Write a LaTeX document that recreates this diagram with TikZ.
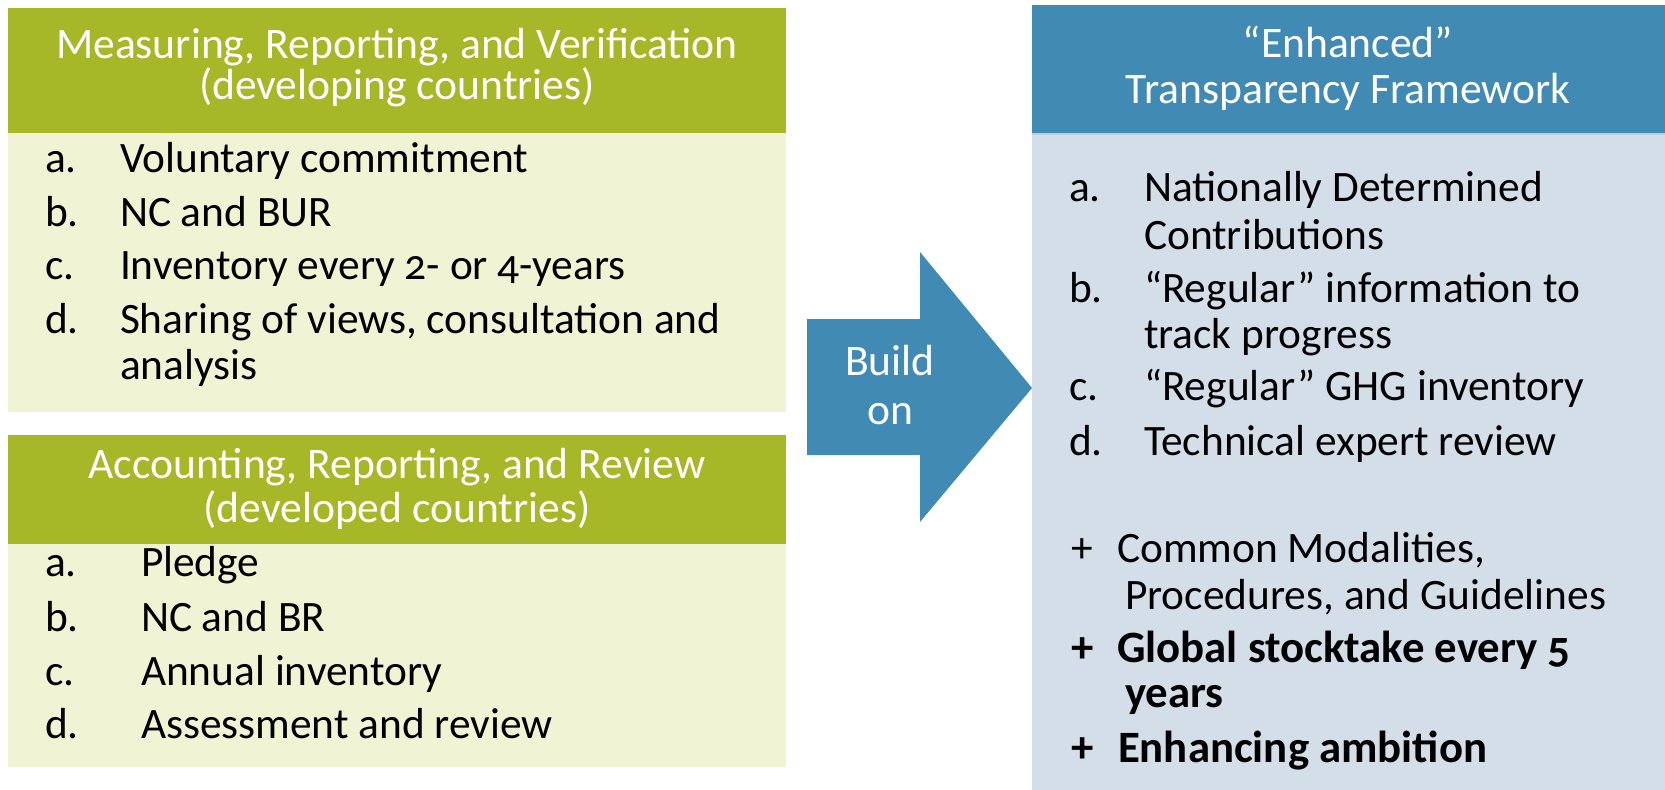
\documentclass[tikz,border=0pt]{standalone}
\usepackage{fontspec}
\setmainfont{Carlito}[Numbers=OldStyle]
\definecolor{HeaderGreen}{HTML}{A6B727}
\definecolor{BodyGreen}{HTML}{F0F4D4}
\definecolor{HeaderBlue}{HTML}{418AB3}
\definecolor{BodyBlue}{HTML}{D4DEE8}
\definecolor{EdgeBlue}{HTML}{BCCCDB}
\newcommand{\headfont}{\fontsize{24.8}{25}\selectfont}
\newcommand{\itemfont}{\fontsize{24.7}{25}\selectfont}
\newcommand{\boldfont}{\fontsize{25.5}{26}\selectfont\bfseries}

\begin{document}
\begin{tikzpicture}[x=0.02cm, y=-0.02cm,
    every node/.style={inner sep=0pt, outer sep=0pt},
    headtext/.style={anchor=base, text=white, font=\headfont},
    itemtext/.style={anchor=base west, font=\itemfont}]

\useasboundingbox[fill=white] (0,0) rectangle (1665,790);

% the three boxes
\fill[HeaderGreen] (8,8) rectangle (786,133);
\fill[BodyGreen] (8,133) rectangle (786,412);
\fill[HeaderGreen] (8,435) rectangle (786,544);
\fill[BodyGreen] (8,544) rectangle (786,767);
\fill[HeaderBlue] (1032,5) rectangle (1665,133);
\fill[BodyBlue] (1032,133) rectangle (1665,790);
\draw[EdgeBlue, line width=1.2pt] (1032,134) -- (1665,134);

% arrow
\coordinate (tail) at (807,388);
\coordinate (tip) at (1032,388);
\fill[HeaderBlue] (tail) ++(0,-69) -- ++(113,0) -- ++(0,-67)
    -- (tip) -- ++(-112,134) -- ++(0,-67) -- ++(-113,0) -- cycle;
\node[headtext] (build) at (890,375) {Build};
\node[headtext] (on) at (890,424) {on};

% headings
\node[headtext] (mrv1) at (397,59) {Measuring, Reporting, and Verification};
\node[headtext] (mrv2) at (397,100) {(developing countries)};
\node[headtext] (arr1) at (397,478) {Accounting, Reporting, and Review};
\node[headtext] (arr2) at (397,522) {(developed countries)};
\node[headtext] (etf1) at (1348,58) {“Enhanced”};
\node[headtext] (etf2) at (1348,104) {Transparency Framework};

% developing countries
\foreach \i/\lab/\y/\txt in {1/a./173/Voluntary commitment, 2/b./227/NC and BUR,
    3/c./279/Inventory every 2- or 4-years,
    4/d./333/{Sharing of views, consultation and}} {
  \node[itemtext] (mrvl\i) at (45,\y) {\lab};
  \node[itemtext] (mrvt\i) at (120,\y) {\txt};
}
\node[itemtext] (mrvt5) at (120,379) {analysis};

% developed countries
\foreach \i/\lab/\y/\txt in {1/a./576/Pledge, 2/b./631/NC and BR,
    3/c./685/Annual inventory, 4/d./738/Assessment and review} {
  \node[itemtext] (arrl\i) at (45,\y) {\lab};
  \node[itemtext] (arrt\i) at (141,\y) {\txt};
}

% enhanced framework
\foreach \i/\lab/\y in {1/a./202, 2/b./302, 3/c./400, 4/d./455}
  \node[itemtext] (etfl\i) at (1069,\y) {\lab};
\foreach \i/\y/\txt in {1/202/Nationally Determined, 2/250/Contributions,
    3/302/“Regular” information to, 4/348/track progress,
    5/400/“Regular” GHG inventory, 6/455/Technical expert review}
  \node[itemtext] (etft\i) at (1144,\y) {\txt};

\node[itemtext] (plus1) at (1071,562) {+};
\node[itemtext] (com1) at (1117,562) {Common Modalities,};
\node[itemtext] (com2) at (1125,609) {Procedures, and Guidelines};
\node[itemtext, font=\boldfont] (plus2) at (1071,662) {+};
\node[itemtext, font=\boldfont] (gst1) at (1117,662) {Global stocktake every 5};
\node[itemtext, font=\boldfont] (gst2) at (1125,707) {years};
\node[itemtext, font=\boldfont] (plus3) at (1071,762) {+};
\node[itemtext, font=\boldfont] (amb) at (1118,762) {Enhancing ambition};

\end{tikzpicture}
\end{document}
